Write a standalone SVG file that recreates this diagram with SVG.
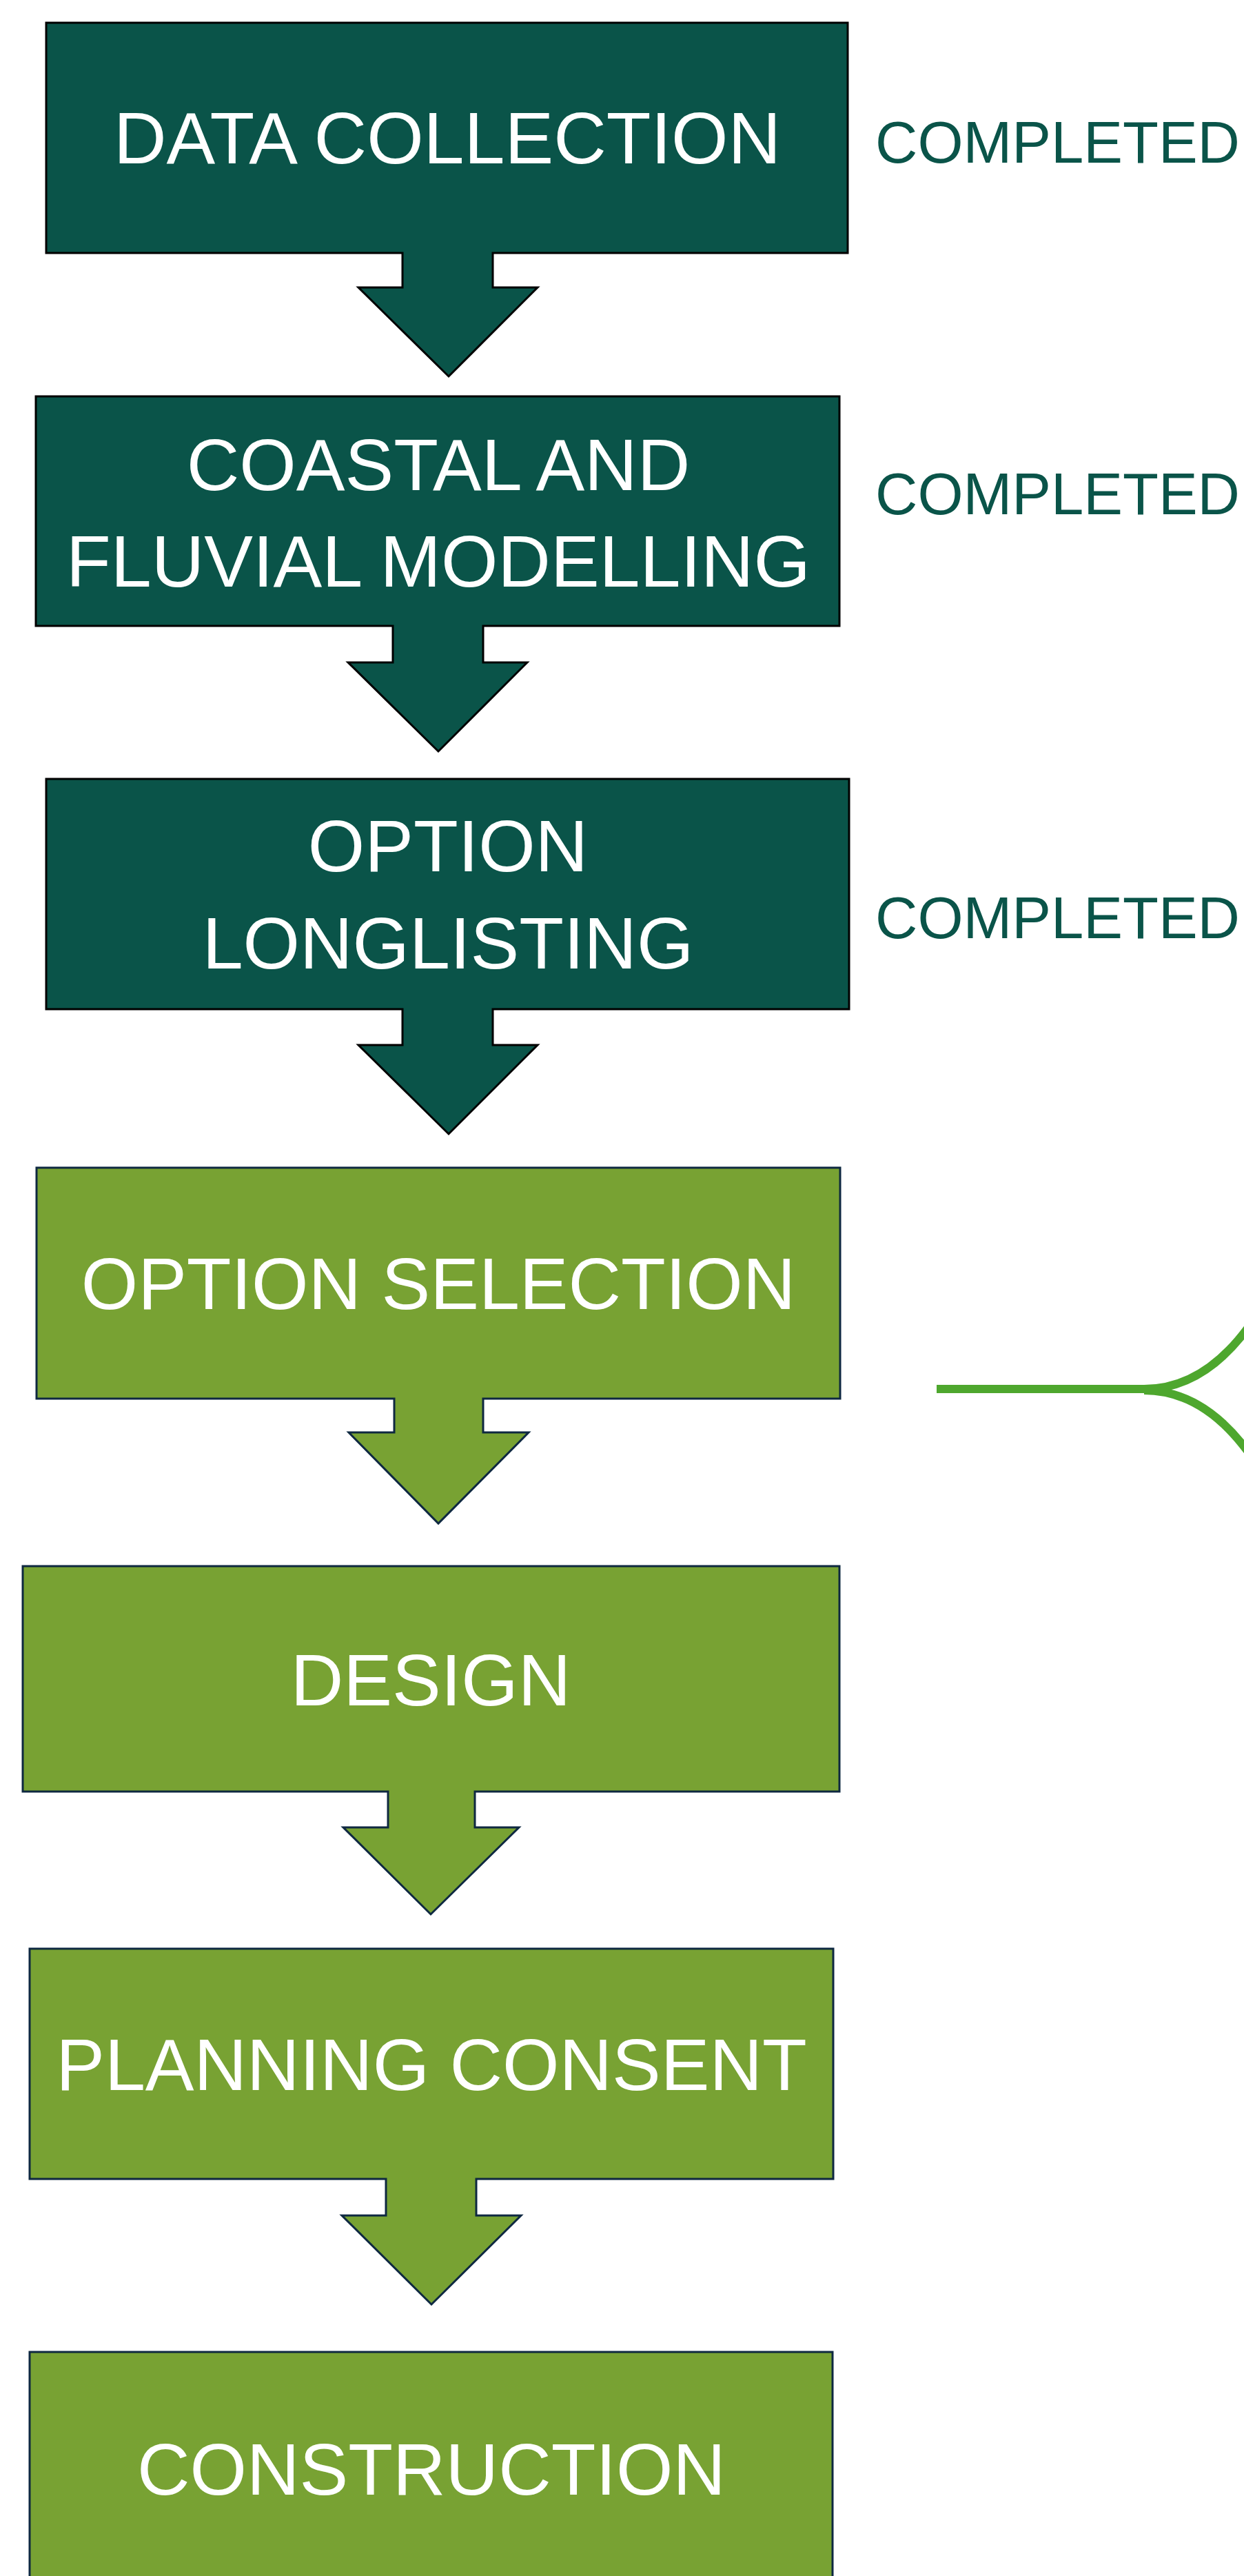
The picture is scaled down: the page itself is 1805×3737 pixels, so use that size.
<svg xmlns="http://www.w3.org/2000/svg" width="1805" height="3737" viewBox="0 0 1805 3737">
<style>
.dark{fill:#0A5449;stroke:#000;stroke-width:3;stroke-linejoin:miter}
.light{fill:#78A233;stroke:#0E2841;stroke-width:3;stroke-linejoin:miter}
.lbl{font-family:"Liberation Sans",Arial,sans-serif;font-size:106px;fill:#fff;text-anchor:middle}
.done{font-family:"Liberation Sans",Arial,sans-serif;font-size:85px;fill:#0A5449}
.brace{fill:none;stroke:#4EA72E;stroke-width:12}
</style>
<rect width="1805" height="3737" fill="#fff"/>
<g id="data-collection">
<path class="dark" d="M67,33 H1230 V367 H715 V417 H780 L651,546 L520,417 H584 V367 H67 Z"/>
<text class="lbl" x="649" y="237">DATA COLLECTION</text>
</g>
<g id="coastal-fluvial">
<path class="dark" d="M52,575 H1218 V908 H701 V961 H765 L636,1090 L505,961 H570 V908 H52 Z"/>
<text class="lbl" x="636" y="711">COASTAL AND</text>
<text class="lbl" x="636" y="851">FLUVIAL MODELLING</text>
</g>
<g id="option-longlisting">
<path class="dark" d="M67,1130 H1232 V1464 H715 V1516 H780 L651,1645 L520,1516 H584 V1464 H67 Z"/>
<text class="lbl" x="650" y="1264">OPTION</text>
<text class="lbl" x="650" y="1405">LONGLISTING</text>
</g>
<g id="option-selection">
<path class="light" d="M53,1694 H1219 V2029 H701 V2078 H767 L636,2210 L506,2078 H572 V2029 H53 Z"/>
<text class="lbl" x="636" y="1899">OPTION SELECTION</text>
</g>
<g id="design">
<path class="light" d="M33,2272 H1218 V2599 H689 V2651 H753 L625,2777 L498,2651 H563 V2599 H33 Z"/>
<text class="lbl" x="625" y="2474">DESIGN</text>
</g>
<g id="planning-consent">
<path class="light" d="M43,2827 H1209 V3161 H691 V3214 H756 L626,3343 L496,3214 H560 V3161 H43 Z"/>
<text class="lbl" x="626" y="3032">PLANNING CONSENT</text>
</g>
<g id="construction">
<path class="light" d="M43,3412 H1208 V3760 H43 Z"/>
<text class="lbl" x="626" y="3619">CONSTRUCTION</text>
</g>
<g id="status">
<text class="done" x="1270" y="236">COMPLETED</text>
<text class="done" x="1270" y="746">COMPLETED</text>
<text class="done" x="1270" y="1361">COMPLETED</text>
</g>
<g id="connectors">
<path class="brace" d="M1359,2015 H1662"/>
<path class="brace" d="M1660,2015 C1730,2015 1790,1970 1840,1880"/>
<path class="brace" d="M1660,2017 C1730,2017 1790,2062 1840,2152"/>
</g>
</svg>
